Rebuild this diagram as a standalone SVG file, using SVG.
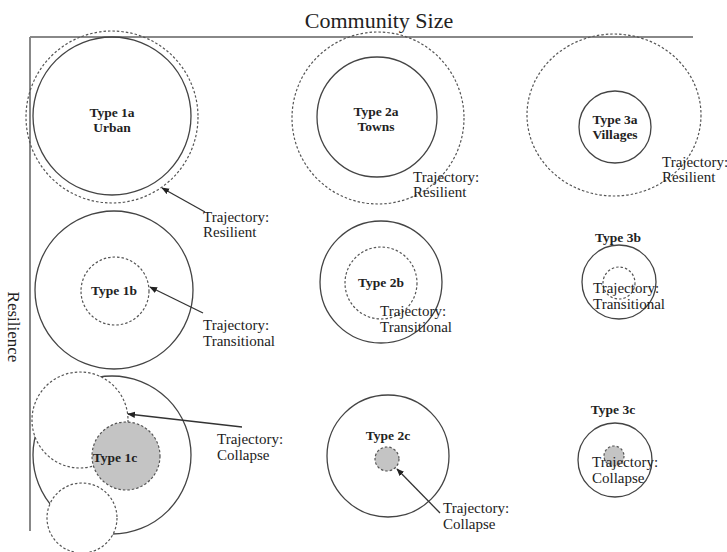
<svg xmlns="http://www.w3.org/2000/svg" width="727" height="552" viewBox="0 0 727 552">
<style>
.solid{fill:none;stroke:#444;stroke-width:1.3}
.dash{fill:none;stroke:#555;stroke-width:1.2;stroke-dasharray:2.5,2}
.dashw{fill:#fff;stroke:#555;stroke-width:1.2;stroke-dasharray:2.5,2}
.gray{fill:#c4c4c4;stroke:#555;stroke-width:1.2;stroke-dasharray:2.5,2}
.lbl{font-family:"Liberation Serif",serif;font-weight:bold;font-size:13.5px;fill:#222;text-anchor:middle}
.traj{font-family:"Liberation Serif",serif;font-size:15px;fill:#222}
.axis{stroke:#888;stroke-width:2;fill:none}
.arr{stroke:#333;stroke-width:1.3;fill:none;marker-end:url(#ah)}
</style>
<defs>
<marker id="ah" viewBox="0 0 10 10" refX="9" refY="5" markerWidth="6" markerHeight="6" orient="auto-start-reverse">
<path d="M0,1 L10,5 L0,9 z" fill="#222"/>
</marker>
</defs>
<rect width="727" height="552" fill="#fff"/>
<g id="axes">
<line class="axis" x1="30" y1="37" x2="693" y2="37"/>
<line class="axis" x1="30" y1="37" x2="30" y2="531"/>
<text x="379" y="28" font-family="Liberation Serif,serif" font-size="22" text-anchor="middle" fill="#222">Community Size</text>
<text transform="translate(8,327) rotate(90)" font-family="Liberation Serif,serif" font-size="17" text-anchor="middle" fill="#222">Resilience</text>
</g>
<g id="type1a">
<circle class="solid" cx="112" cy="116" r="79"/>
<circle class="dash" cx="112" cy="117" r="86"/>
<text class="lbl" x="112" y="117">Type 1a</text>
<text class="lbl" x="112" y="132">Urban</text>
<text class="traj" x="203" y="222">Trajectory:</text>
<text class="traj" x="203" y="237">Resilient</text>
</g>
<g id="type2a">
<circle class="solid" cx="377" cy="117" r="60"/>
<circle class="dash" cx="378" cy="118" r="86"/>
<text class="lbl" x="376" y="116">Type 2a</text>
<text class="lbl" x="376" y="131">Towns</text>
<text class="traj" x="413" y="182">Trajectory:</text>
<text class="traj" x="413" y="197">Resilient</text>
</g>
<g id="type3a">
<circle class="solid" cx="615" cy="127" r="36"/>
<ellipse class="dash" cx="614" cy="115" rx="87" ry="81"/>
<text class="lbl" x="615" y="124">Type 3a</text>
<text class="lbl" x="615" y="139">Villages</text>
<text class="traj" x="662" y="167">Trajectory:</text>
<text class="traj" x="662" y="182">Resilient</text>
</g>
<g id="type1b">
<circle class="solid" cx="114" cy="290" r="79"/>
<circle class="dash" cx="115" cy="291" r="34"/>
<text class="lbl" x="114" y="295">Type 1b</text>
<text class="traj" x="203" y="330">Trajectory:</text>
<text class="traj" x="203" y="346">Transitional</text>
</g>
<g id="type2b">
<circle class="solid" cx="381" cy="282" r="61"/>
<circle class="dash" cx="381" cy="283" r="36"/>
<text class="lbl" x="381" y="287">Type 2b</text>
<text class="traj" x="380" y="316">Trajectory:</text>
<text class="traj" x="380" y="332">Transitional</text>
</g>
<g id="type3b">
<circle class="solid" cx="619" cy="282" r="37"/>
<circle class="dash" cx="619" cy="283" r="16"/>
<text class="lbl" x="618" y="242">Type 3b</text>
<text class="traj" x="593" y="293">Trajectory:</text>
<text class="traj" x="593" y="309">Transitional</text>
</g>
<g id="type1c">
<circle class="solid" cx="112" cy="455" r="79"/>
<circle class="dashw" cx="80" cy="420" r="48"/>
<circle class="dashw" cx="82" cy="518" r="35"/>
<circle class="gray" cx="126" cy="456" r="34"/>
<text class="lbl" x="115" y="462">Type 1c</text>
<text class="traj" x="217" y="444">Trajectory:</text>
<text class="traj" x="217" y="460">Collapse</text>
</g>
<g id="type2c">
<circle class="solid" cx="388" cy="456" r="61"/>
<circle class="gray" cx="387" cy="459" r="12"/>
<text class="lbl" x="388" y="440">Type 2c</text>
<text class="traj" x="443" y="513">Trajectory:</text>
<text class="traj" x="443" y="529">Collapse</text>
</g>
<g id="type3c">
<circle class="solid" cx="615" cy="460" r="37"/>
<circle class="gray" cx="614" cy="456" r="10"/>
<text class="lbl" x="613" y="414">Type 3c</text>
<text class="traj" x="592" y="467">Trajectory:</text>
<text class="traj" x="592" y="483">Collapse</text>
</g>
<g id="connectors">
<line class="arr" x1="205" y1="212" x2="162" y2="188"/>
<line class="arr" x1="203" y1="313" x2="150" y2="287"/>
<line class="arr" x1="242" y1="427" x2="128" y2="414"/>
<line class="arr" x1="440" y1="513" x2="397" y2="469"/>
</g>
</svg>
